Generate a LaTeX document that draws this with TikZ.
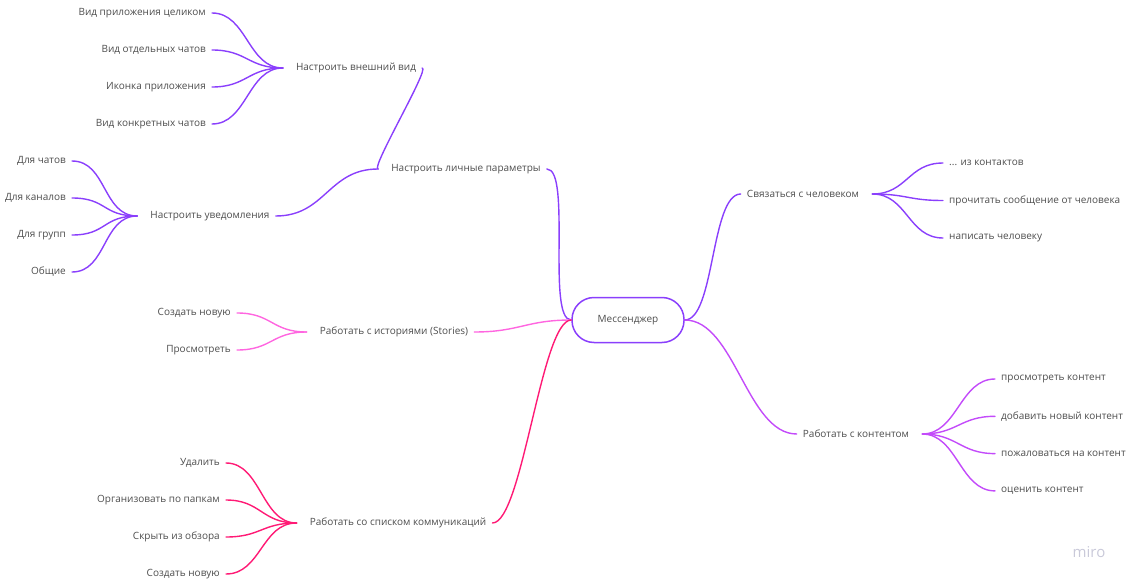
\documentclass[tikz,border=0pt]{standalone}
\usepackage{fontspec}
\setmainfont{Open Sans}
\usetikzlibrary{positioning}

\definecolor{mmViolet}{HTML}{8A3FFC}
\definecolor{mmRose}{HTML}{FF66E0}
\definecolor{mmPink}{HTML}{FF1A75}
\definecolor{mmPurple}{HTML}{C34BFA}
\definecolor{mmText}{HTML}{4D4D4D}
\definecolor{mmLogo}{HTML}{C9C9D9}

\begin{document}
\begin{tikzpicture}[
  x=1pt, y=-1pt,
  font=\fontsize{10}{12}\selectfont,
  hub/.style={draw=mmViolet, line width=1.5pt, rounded corners=22pt, text=mmText,
              minimum width=112pt, minimum height=45pt},
  topic/.style={text=mmText, inner xsep=6pt, inner ysep=2pt},
  leaf/.style={text=mmText, inner xsep=6pt, inner ysep=2pt},
  link/.style={line width=1.4pt, line cap=round}
]
\useasboundingbox (0,0) rectangle (1133,586);

\node[hub] (hub) at (628,320) {Мессенджер};

% left side
\node[topic] (lp) at (466,169) {Настроить личные параметры};
\node[topic] (ext) at (356,68) {Настроить внешний вид};
\node[topic] (ntf) at (210,216) {Настроить уведомления};
\node[topic] (sto) at (394,332) {Работать с историями (Stories)};
\node[topic] (com) at (398,523) {Работать со списком коммуникаций};

\node[leaf, anchor=east] (e1) at (212,13) {Вид приложения целиком};
\node[leaf, below=37pt of e1.east, anchor=east] (e2) {Вид отдельных чатов};
\node[leaf, below=37pt of e2.east, anchor=east] (e3) {Иконка приложения};
\node[leaf, below=37pt of e3.east, anchor=east] (e4) {Вид конкретных чатов};

\node[leaf, anchor=east] (n1) at (72,161) {Для чатов};
\node[leaf, below=37pt of n1.east, anchor=east] (n2) {Для каналов};
\node[leaf, below=37pt of n2.east, anchor=east] (n3) {Для групп};
\node[leaf, below=37pt of n3.east, anchor=east] (n4) {Общие};

\node[leaf, anchor=east] (s1) at (237,313) {Создать новую};
\node[leaf, below=37pt of s1.east, anchor=east] (s2) {Просмотреть};

\node[leaf, anchor=east] (k1) at (226,463) {Удалить};
\node[leaf, below=37pt of k1.east, anchor=east] (k2) {Организовать по папкам};
\node[leaf, below=37pt of k2.east, anchor=east] (k3) {Скрыть из обзора};
\node[leaf, below=37pt of k3.east, anchor=east] (k4) {Создать новую};

% right side
\node[topic] (con) at (803,194) {Связаться с человеком};
\node[topic] (cnt) at (856,434) {Работать с контентом};

\node[leaf, anchor=west] (c1) at (943,163) {... из контактов};
\node[leaf, below=37.5pt of c1.west, anchor=west] (c2) {прочитать сообщение от человека};
\node[leaf, below=37.5pt of c2.west, anchor=west] (c3) {написать человеку};

\node[leaf, anchor=west] (t1) at (995,379) {просмотреть контент};
\node[leaf, below=37.3pt of t1.west, anchor=west] (t2) {добавить новый контент};
\node[leaf, below=37.3pt of t2.west, anchor=west] (t3) {пожаловаться на контент};
\node[leaf, below=37.3pt of t3.west, anchor=west] (t4) {оценить контент};

\node[text=mmLogo, font=\fontsize{15}{16}\selectfont] (logo) at (1089,552) {miro};

% hub to topics
\draw[link, mmViolet] (hub.west) to[out=180, in=0, distance=25pt] (lp.east);
\draw[link, mmRose] (hub.west) to[out=180, in=0, distance=45pt] (sto.east);
\draw[link, mmPink] (hub.west) to[out=180, in=0, distance=30pt] (com.east);
\draw[link, mmViolet] (hub.east) to[out=0, in=180, distance=30pt] (con.west);
\draw[link, mmPurple] (hub.east) to[out=0, in=180, distance=50pt] (cnt.west);

% personal settings
\draw[link, mmViolet] ([xshift=-7pt]lp.west) to[out=180, in=0, distance=8pt] (ext.east);
\draw[link, mmViolet] ([xshift=-7pt]lp.west) to[out=180, in=0, distance=50pt] (ntf.east);

% leaves
\foreach \n in {e1,e2,e3,e4}
  \draw[link, mmViolet] (\n.east) to[out=0, in=180, distance=35pt] ([xshift=-7pt]ext.west);
\foreach \n in {n1,n2,n3,n4}
  \draw[link, mmViolet] (\n.east) to[out=0, in=180, distance=35pt] ([xshift=-7pt]ntf.west);
\foreach \n in {s1,s2}
  \draw[link, mmRose] (\n.east) to[out=0, in=180, distance=35pt] ([xshift=-7pt]sto.west);
\foreach \n in {k1,k2,k3,k4}
  \draw[link, mmPink] (\n.east) to[out=0, in=180, distance=35pt] ([xshift=-7pt]com.west);
\foreach \n in {c1,c2,c3}
  \draw[link, mmViolet] ([xshift=7pt]con.east) to[out=0, in=180, distance=35pt] (\n.west);
\foreach \n in {t1,t2,t3,t4}
  \draw[link, mmPurple] ([xshift=7pt]cnt.east) to[out=0, in=180, distance=35pt] (\n.west);

\end{tikzpicture}
\end{document}
